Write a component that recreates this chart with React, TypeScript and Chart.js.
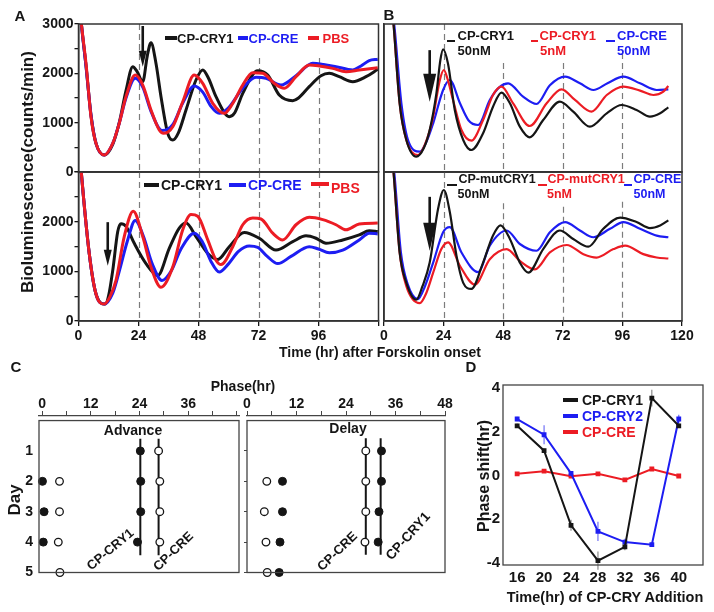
import React, { useEffect, useRef } from 'react';
import { Chart, registerables } from 'chart.js';

Chart.register(...registerables);

type Pt = [number, number];

const W = 714;
const H = 612;
const FONT = "'Liberation Sans', Arial, Helvetica, sans-serif";
const INK = '#151515';
const BLUE = '#1d1df2';
const RED = '#ec1c24';
const FRAME = '#333333';

// ---------------- Panel A / B : bioluminescence traces [time (hr), counts/min] ----------------
const BIO_X_TICKS = [0, 24, 48, 72, 96, 120];
const BIO_Y_TICKS = [0, 500, 1000, 1500, 2000, 2500, 3000];
const A_X_LABELS = [0, 24, 48, 72, 96];
const B_X_LABELS = [0, 24, 48, 72, 96, 120];
const Y_LABELS_TOP = [0, 1000, 2000, 3000];
const Y_LABELS_BOTTOM = [0, 1000, 2000];

const A_TOP_CRY1: Pt[] = [[0, 3700], [1, 3080], [3, 2150], [5, 1150], [7, 580], [10.3, 344], [13.7, 560], [16.3, 1000], [19, 1650], [21.7, 2135], [23.5, 2030], [25.7, 1831], [27.5, 2350], [29, 2622], [31, 2200], [33, 1527], [35.7, 783], [37.7, 648], [40, 800], [43, 1256], [47, 1865], [49.7, 2068], [52, 1900], [55, 1527], [60.3, 1121], [62.5, 1200], [65.7, 1594], [71.7, 2054], [75.7, 1966], [80.3, 1561], [85.7, 1446], [88, 1500], [92.3, 1730], [97, 1950], [100.3, 2000], [104.3, 1932], [109.7, 1831], [115, 1932], [119.7, 2081]];
const A_TOP_CRE: Pt[] = [[0, 3700], [1, 3080], [3, 2150], [5, 1150], [7, 580], [10.3, 344], [13.7, 580], [16.3, 990], [19, 1500], [22.7, 1900], [25.7, 1720], [29, 1230], [33.4, 840], [37.7, 960], [41.7, 1400], [46.3, 1743], [49.7, 1620], [53, 1330], [56.3, 1189], [60, 1300], [65.7, 1700], [71, 1919], [75, 1900], [81, 1763], [87, 1950], [93.7, 2203], [98, 2180], [103, 2135], [109.7, 2068], [113, 2150], [116.3, 2257], [119.7, 2284]];
const A_TOP_PBS: Pt[] = [[0, 3700], [1, 3080], [3, 2200], [5, 1120], [7, 580], [10.3, 344], [13.7, 580], [16.3, 986], [19, 1527], [22.7, 1966], [25.7, 1763], [29, 1256], [32.3, 851], [34, 783], [37.7, 918], [41.7, 1425], [46.3, 1966], [49.7, 1797], [53.7, 1392], [58.3, 1189], [61.7, 1392], [65.7, 1763], [69.7, 2013], [73.7, 2000], [78.3, 1797], [82.3, 1696], [87, 1932], [92.3, 2169], [96.3, 2149], [101.7, 2100], [107, 2034], [112.3, 2068], [119.7, 2115]];

const A_BOT_CRY1: Pt[] = [[0, 3700], [1, 3060], [4.3, 1360], [7, 544], [10.7, 340], [12, 500], [13.7, 1020], [15.7, 1802], [17, 1958], [19, 1904], [22.3, 1564], [27, 1156], [31.7, 918], [36.3, 1462], [40.3, 1870], [43, 1972], [47, 1700], [51.7, 1360], [55.7, 1238], [60.3, 1496], [66.3, 1782], [72.3, 1666], [79, 1428], [85.7, 1598], [91, 1714], [95, 1666], [99, 1564], [105.7, 1632], [112.3, 1734], [116.3, 1816], [119.7, 1802]];
const A_BOT_CRE: Pt[] = [[0, 3700], [1, 3060], [4.3, 1360], [7, 544], [10.3, 340], [13.7, 560], [16.3, 1000], [19.5, 1600], [22.7, 2026], [26, 1700], [29.5, 1150], [33.4, 816], [37, 1000], [41, 1450], [46.3, 1768], [49.5, 1600], [53, 1200], [56.3, 986], [60, 1150], [64, 1400], [68.3, 1510], [71.7, 1482], [75.5, 1300], [79.7, 1156], [85, 1300], [92.3, 1496], [96, 1450], [100.3, 1374], [105.7, 1428], [112.3, 1632], [116.3, 1768], [119.7, 1754]];
const A_BOT_PBS: Pt[] = [[0, 3700], [1, 3060], [4.3, 1360], [7, 544], [10.3, 340], [12.5, 480], [15, 816], [18.3, 1700], [21.9, 2210], [25.7, 1700], [29, 1088], [33, 680], [37.7, 1088], [41.7, 1836], [45, 2142], [47.7, 2108], [51.7, 1632], [55, 1224], [57, 1136], [61.7, 1496], [65.7, 1938], [69.7, 2074], [73, 2054], [77.7, 1768], [81.7, 1632], [87, 1938], [92.3, 2088], [97.7, 2040], [103, 1938], [107, 1836], [112.3, 1952], [119.7, 1972]];

const B_TOP_CRY1_50: Pt[] = [[3, 3500], [4, 2900], [6.3, 1392], [9, 649], [13, 311], [16, 480], [18.4, 851], [21.1, 1595], [22.7, 2270], [23.8, 2486], [25.8, 2189], [28.5, 1257], [31.9, 649], [35.2, 446], [39.9, 784], [43.9, 1324], [47.3, 1608], [50.7, 1392], [54.7, 919], [58.7, 703], [64.1, 1054], [70.8, 1426], [76.2, 1223], [82.9, 919], [89.7, 1189], [95.7, 1358], [101.7, 1257], [107.1, 1122], [111.2, 1189], [114.5, 1311]];
const B_TOP_CRY1_5: Pt[] = [[3, 3500], [4, 2900], [6.3, 1392], [9, 649], [13.7, 345], [16.5, 560], [19.8, 1122], [22.5, 1865], [24.1, 2068], [25.5, 1900], [27.8, 1460], [31.2, 851], [35.2, 635], [39.9, 1054], [43.9, 1561], [47.3, 1730], [52, 1392], [58.7, 932], [65.5, 1392], [71.5, 1676], [76.9, 1460], [83.6, 1223], [89.7, 1561], [96.4, 1730], [103.1, 1649], [108.5, 1561], [112.5, 1629], [114.5, 1743]];
const B_TOP_CRE_50: Pt[] = [[3, 3500], [4.3, 2900], [7, 1392], [10, 600], [14.4, 412], [17, 600], [19.8, 987], [23.8, 1662], [26.5, 1865], [30.6, 1392], [34, 1050], [37.9, 953], [42.6, 1460], [46.5, 1720], [50, 1797], [56, 1527], [61.4, 1378], [66.8, 1757], [72.9, 1932], [78.9, 1797], [84.3, 1662], [90, 1800], [96.4, 1932], [103.1, 1797], [109.8, 1662], [114.5, 1676]];

const B_BOT_MUT_50: Pt[] = [[3, 3500], [4, 2900], [6.3, 1380], [9, 768], [13, 428], [15.5, 700], [18.4, 1176], [21.8, 2264], [24.1, 2638], [26.5, 2196], [29.2, 1312], [31.9, 768], [35.2, 646], [39.9, 1176], [43.9, 1720], [46.9, 1924], [50.7, 1652], [54.7, 1176], [58.1, 972], [64.1, 1448], [70.8, 1822], [76.2, 1652], [82.3, 1496], [88.3, 1856], [95.1, 2081], [101.7, 1992], [107.1, 1870], [111.2, 1924], [114.5, 2026]];
const B_BOT_MUT_5: Pt[] = [[3, 3500], [4, 2900], [6.3, 1380], [9, 700], [14.4, 360], [17, 560], [19.8, 972], [23.1, 1448], [25.8, 1584], [30.6, 1108], [36.6, 734], [42.6, 1244], [49.4, 1448], [54.7, 1210], [60.8, 1040], [66.8, 1380], [73.6, 1530], [80.3, 1346], [85.6, 1278], [92.4, 1448], [97.1, 1516], [104.4, 1346], [109.8, 1278], [114.5, 1258]];
const B_BOT_CRE_50: Pt[] = [[3, 3500], [4.3, 2900], [6.8, 1380], [9.5, 750], [13.7, 442], [16.5, 700], [19.8, 1176], [23.8, 1788], [26.5, 1890], [31.2, 1380], [37.9, 986], [42.6, 1516], [49.4, 1822], [54.7, 1550], [61.4, 1414], [66.8, 1788], [72.9, 1992], [78.9, 1822], [84.3, 1686], [91, 1856], [96.4, 1992], [103.1, 1856], [109.8, 1720], [114.5, 1686]];

// dashed reference lines [time, top value]
const DASH_A_TOP: Pt[] = [[24, 3000], [48, 2310], [72, 2310], [96, 2310]];
const DASH_A_BOT: Pt[] = [[24, 3000], [48, 3000], [72, 3000], [96, 3000]];
const DASH_B_TOP: Pt[] = [[24, 3000], [48, 2210], [72, 2210], [96, 2410]];
const DASH_B_BOT: Pt[] = [[24, 3000], [48, 2370], [72, 2300], [96, 2400]];

// arrows: [time, from value, to value]
const ARROW_A_TOP = [25.7, 2960, 2135];
const ARROW_A_BOT = [11.7, 1990, 1110];
const ARROW_B_TOP = [18.4, 2470, 1425];
const ARROW_B_BOT = [18.4, 2500, 1415];

// ---------------- Panel C : phase (hr) by day ----------------
const C_X_TICKS = [0, 6, 12, 18, 24, 30, 36, 42, 48];
const ADV_X_LABELS = [0, 12, 24, 36];
const DEL_X_LABELS = [0, 12, 24, 36, 48];
const C_DAYS = [1, 2, 3, 4, 5];
const ADV_FILLED: Pt[] = [[0.1, 2], [0.5, 3], [0.3, 4], [24.2, 1], [24.3, 2], [24.3, 3], [23.5, 4]];
const ADV_OPEN: Pt[] = [[4.3, 2], [4.3, 3], [4.0, 4], [4.4, 5], [28.7, 1], [29.0, 2], [29.0, 3], [29.0, 4]];
const ADV_LINES: number[][] = [[24.2, 0.6, 4.43], [28.7, 0.6, 4.43]];
const DEL_FILLED: Pt[] = [[8.6, 2], [8.6, 3], [8.0, 4], [7.8, 5], [32.6, 1], [32.6, 2], [32.0, 3], [31.8, 4]];
const DEL_OPEN: Pt[] = [[4.8, 2], [4.2, 3], [4.6, 4], [4.9, 5], [28.8, 1], [28.8, 2], [28.8, 3], [28.6, 4]];
const DEL_LINES: number[][] = [[28.8, 0.58, 4.42], [32.4, 0.58, 4.42]];

// ---------------- Panel D : phase shift ----------------
const D_TIME = [16, 20, 24, 28, 32, 36, 40];
const D_Y_TICKS = [-4, -2, 0, 2, 4];
const D_CRY1 = [2.28, 1.14, -2.28, -3.9, -3.27, 3.55, 2.28];
const D_CRY2 = [2.59, 1.87, 0.1, -2.56, -3.05, -3.17, 2.59];
const D_CRE = [0.08, 0.2, -0.03, 0.08, -0.2, 0.3, -0.02];
const D_CRY1_ERR = [0.1, 0.1, 0.25, 0.42, 0.15, 0.38, 0.1];
const D_CRY2_ERR = [0.1, 0.43, 0.05, 0.44, 0.15, 0.05, 0.2];
const D_CRE_ERR = [0.05, 0.05, 0.05, 0.05, 0.05, 0.05, 0.05];

// ---------------- helpers ----------------
const tickFont = (size: number) => ({ family: FONT, size, weight: 'bold' as const });

function fixAxis(size: number, horizontal: boolean) {
  return (s: any) => {
    if (horizontal) s.height = size;
    else s.width = size;
    s.paddingLeft = 0;
    s.paddingRight = 0;
    s.paddingTop = 0;
    s.paddingBottom = 0;
  };
}
function setTicks(values: number[]) {
  return (s: any) => {
    s.ticks = values.map((v) => ({ value: v }));
  };
}
function pad(L: number, T: number, R: number, B: number, yW: number, xH: number, xTop = false) {
  return {
    left: L - yW,
    right: W - R,
    top: xTop ? T - xH : T,
    bottom: xTop ? H - B : H - B - xH,
  };
}
const pts = (d: Pt[]) => d.map(([x, y]) => ({ x, y }));

interface BioSpec {
  L: number; T: number; R: number; B: number;
  series: { data: Pt[]; color: string }[];
  lw: number;
  xLabels: number[] | null;
  yLabels: number[] | null;
  dashes: Pt[];
  arrow: number[];
  head: [number, number];
}

function makeBio(canvas: HTMLCanvasElement, s: BioSpec) {
  const yW = s.yLabels ? 60 : 0;
  const xH = s.xLabels ? 30 : 0;
  const deco = {
    id: 'bioDeco',
    beforeDatasetsDraw(chart: any) {
      const { ctx, chartArea: a, scales } = chart;
      const x = scales.x, y = scales.y;
      ctx.save();
      ctx.strokeStyle = '#7c7c7c';
      ctx.lineWidth = 1.2;
      ctx.setLineDash([6, 4]);
      s.dashes.forEach(([t, v]) => {
        const px = Math.round(x.getPixelForValue(t)) + 0.5;
        ctx.beginPath();
        ctx.moveTo(px, y.getPixelForValue(v));
        ctx.lineTo(px, a.bottom);
        ctx.stroke();
      });
      ctx.restore();
    },
    afterDatasetsDraw(chart: any) {
      const { ctx, chartArea: a, scales } = chart;
      const x = scales.x, y = scales.y;
      const [t, v0, v1] = s.arrow;
      const px = x.getPixelForValue(t);
      const y0 = y.getPixelForValue(v0);
      const y1 = y.getPixelForValue(v1);
      const [hw, hl] = s.head;
      ctx.save();
      ctx.strokeStyle = INK;
      ctx.fillStyle = INK;
      ctx.lineWidth = 2.6;
      ctx.beginPath();
      ctx.moveTo(px, y0);
      ctx.lineTo(px, y1 - hl + 2);
      ctx.stroke();
      ctx.beginPath();
      ctx.moveTo(px - hw / 2, y1 - hl);
      ctx.lineTo(px + hw / 2, y1 - hl);
      ctx.lineTo(px, y1);
      ctx.closePath();
      ctx.fill();
      ctx.strokeStyle = FRAME;
      ctx.lineWidth = 1.5;
      ctx.strokeRect(a.left, a.top, a.right - a.left, a.bottom - a.top);
      ctx.restore();
    },
  };
  return new Chart(canvas, {
    type: 'line',
    data: {
      datasets: s.series.map((d) => ({
        data: pts(d.data),
        borderColor: d.color,
        backgroundColor: d.color,
        borderWidth: s.lw,
        pointRadius: 0,
        cubicInterpolationMode: 'monotone' as const,
        fill: false,
      })),
    },
    options: {
      responsive: false,
      animation: false,
      events: [],
      layout: { padding: pad(s.L, s.T, s.R, s.B, yW, xH) },
      plugins: { legend: { display: false }, tooltip: { enabled: false } },
      scales: {
        x: {
          type: 'linear',
          min: 0,
          max: 120,
          afterBuildTicks: setTicks(BIO_X_TICKS),
          afterFit: fixAxis(xH, true),
          ticks: {
            display: !!s.xLabels,
            autoSkip: false,
            maxRotation: 0,
            padding: 2,
            color: INK,
            font: tickFont(14),
            callback: (v: any) => (s.xLabels && s.xLabels.includes(Number(v)) ? String(v) : ''),
          },
          grid: { drawOnChartArea: false, drawTicks: !!s.xLabels, tickLength: 5, color: INK, lineWidth: 1.3 },
          border: { display: true, color: FRAME, width: 1.5 },
        },
        y: {
          type: 'linear',
          min: 0,
          max: 3000,
          afterBuildTicks: setTicks(BIO_Y_TICKS),
          afterFit: fixAxis(yW, false),
          ticks: {
            display: !!s.yLabels,
            autoSkip: false,
            padding: 1,
            color: INK,
            font: tickFont(14),
            callback: (v: any) => (s.yLabels && s.yLabels.includes(Number(v)) ? String(v) : ''),
          },
          grid: { drawOnChartArea: false, drawTicks: !!s.yLabels, tickLength: 4, color: INK, lineWidth: 1.3 },
          border: { display: true, color: FRAME, width: 1.5 },
        },
      },
    },
    plugins: [deco],
  } as any);
}

interface PhaseSpec {
  L: number; T: number; R: number; B: number;
  xMin: number; xMax: number; xLabels: number[];
  filled: Pt[]; open: Pt[]; lines: number[][];
  yLabels: boolean;
}

function makePhase(canvas: HTMLCanvasElement, s: PhaseSpec) {
  const yW = s.yLabels ? 30 : 6;
  const xH = 30;
  const deco = {
    id: 'phaseDeco',
    afterDatasetsDraw(chart: any) {
      const { ctx, chartArea: a, scales } = chart;
      const top = scales.y.getPixelForValue(0);
      ctx.save();
      ctx.strokeStyle = '#444';
      ctx.lineWidth = 1.3;
      ctx.strokeRect(a.left, top, a.right - a.left, a.bottom - top);
      ctx.restore();
    },
  };
  const lineSets = s.lines.map(([p, d0, d1]) => ({
    data: [{ x: p, y: d0 }, { x: p, y: d1 }],
    borderColor: INK,
    borderWidth: 2,
    pointRadius: 0,
    showLine: true,
    clip: false,
  }));
  return new Chart(canvas, {
    type: 'line',
    data: {
      datasets: [
        {
          data: pts(s.filled),
          showLine: false,
          pointRadius: 4,
          pointBackgroundColor: INK,
          pointBorderColor: INK,
          pointBorderWidth: 1,
          clip: false,
        },
        {
          data: pts(s.open),
          showLine: false,
          pointRadius: 3.8,
          pointBackgroundColor: '#ffffff',
          pointBorderColor: INK,
          pointBorderWidth: 1.3,
          clip: false,
        },
        ...lineSets,
      ],
    },
    options: {
      responsive: false,
      animation: false,
      events: [],
      layout: { padding: pad(s.L, s.T, s.R, s.B, yW, xH, true) },
      plugins: { legend: { display: false }, tooltip: { enabled: false } },
      scales: {
        x: {
          type: 'linear',
          position: 'top',
          min: s.xMin,
          max: s.xMax,
          afterBuildTicks: setTicks(C_X_TICKS),
          afterFit: fixAxis(xH, true),
          ticks: {
            autoSkip: false,
            maxRotation: 0,
            padding: -2,
            color: INK,
            font: tickFont(14),
            callback: (v: any) => (s.xLabels.includes(Number(v)) ? String(v) : ''),
          },
          grid: { drawOnChartArea: false, drawTicks: true, tickLength: 5, color: '#444', lineWidth: 1 },
          border: { display: true, color: '#444', width: 1.3 },
        },
        y: {
          type: 'linear',
          min: -0.15,
          max: 5,
          reverse: true,
          afterBuildTicks: setTicks(C_DAYS),
          afterFit: fixAxis(yW, false),
          ticks: {
            autoSkip: false,
            padding: s.yLabels ? 6 : 0,
            color: INK,
            font: tickFont(14),
            callback: (v: any) => (s.yLabels ? String(v) : ''),
          },
          grid: { drawOnChartArea: false, drawTicks: !s.yLabels, tickLength: 3, color: '#444', lineWidth: 1 },
          border: { display: false },
        },
      },
    },
    plugins: [deco],
  } as any);
}

function makeShift(canvas: HTMLCanvasElement) {
  const L = 503, T = 385, R = 703, B = 565;
  const yW = 40, xH = 30;
  const series = [
    { v: D_CRY1, e: D_CRY1_ERR, c: INK, ec: '#8a8a8a' },
    { v: D_CRY2, e: D_CRY2_ERR, c: BLUE, ec: '#6f6ff5' },
    { v: D_CRE, e: D_CRE_ERR, c: RED, ec: '#f06a6a' },
  ];
  const deco = {
    id: 'shiftDeco',
    beforeDatasetsDraw(chart: any) {
      const { ctx, scales } = chart;
      ctx.save();
      ctx.lineWidth = 1.2;
      series.forEach((s) => {
        ctx.strokeStyle = s.ec;
        D_TIME.forEach((t, i) => {
          const px = scales.x.getPixelForValue(t);
          ctx.beginPath();
          ctx.moveTo(px, scales.y.getPixelForValue(s.v[i] + s.e[i]));
          ctx.lineTo(px, scales.y.getPixelForValue(s.v[i] - s.e[i]));
          ctx.stroke();
        });
      });
      ctx.restore();
    },
    afterDatasetsDraw(chart: any) {
      const { ctx, chartArea: a } = chart;
      ctx.save();
      ctx.strokeStyle = '#444';
      ctx.lineWidth = 1.3;
      ctx.strokeRect(a.left, a.top, a.right - a.left, a.bottom - a.top);
      ctx.restore();
    },
  };
  return new Chart(canvas, {
    type: 'line',
    data: {
      datasets: series.map((s) => ({
        data: D_TIME.map((t, i) => ({ x: t, y: s.v[i] })),
        borderColor: s.c,
        backgroundColor: s.c,
        borderWidth: 2,
        pointRadius: 2,
        pointStyle: 'rect',
        pointBackgroundColor: s.c,
        pointBorderColor: s.c,
        clip: false,
      })),
    },
    options: {
      responsive: false,
      animation: false,
      events: [],
      layout: { padding: pad(L, T, R, B, yW, xH) },
      plugins: { legend: { display: false }, tooltip: { enabled: false } },
      scales: {
        x: {
          type: 'linear',
          min: 13.9,
          max: 43.6,
          afterBuildTicks: setTicks(D_TIME),
          afterFit: fixAxis(xH, true),
          ticks: { autoSkip: false, maxRotation: 0, padding: 4, color: INK, font: tickFont(15) },
          grid: { drawOnChartArea: false, drawTicks: false },
          border: { display: false },
        },
        y: {
          type: 'linear',
          min: -4.1,
          max: 4.15,
          afterBuildTicks: setTicks(D_Y_TICKS),
          afterFit: fixAxis(yW, false),
          ticks: { autoSkip: false, padding: 3, color: INK, font: tickFont(15) },
          grid: { drawOnChartArea: false, drawTicks: false },
          border: { display: false },
        },
      },
    },
    plugins: [deco],
  } as any);
}

// ---------------- overlay text ----------------
function Txt(props: { x: number; y: number; size?: number; color?: string; rot?: number; left?: boolean; children: React.ReactNode }) {
  const { x, y, size = 14, color = INK, rot = 0, left = false } = props;
  return (
    <div
      style={{
        position: 'absolute',
        left: x,
        top: y,
        transform: `translate(${left ? '0' : '-50%'}, -50%) rotate(${rot}deg)`,
        fontFamily: FONT,
        fontWeight: 'bold',
        fontSize: size,
        color,
        whiteSpace: 'nowrap',
        lineHeight: 1,
      }}
    >
      {props.children}
    </div>
  );
}
function Seg(props: { x0: number; x1: number; y: number; color: string; t?: number }) {
  const t = props.t ?? 3.5;
  return (
    <div
      style={{
        position: 'absolute',
        left: props.x0,
        top: props.y - t / 2,
        width: props.x1 - props.x0,
        height: t,
        background: props.color,
      }}
    />
  );
}

export default function App() {
  const refs = useRef<(HTMLCanvasElement | null)[]>([]);
  useEffect(() => {
    const c = refs.current as HTMLCanvasElement[];
    const charts = [
      makeBio(c[0], {
        L: 78.5, T: 24, R: 378.5, B: 172, lw: 3,
        series: [{ data: A_TOP_PBS, color: RED }, { data: A_TOP_CRE, color: BLUE }, { data: A_TOP_CRY1, color: INK }],
        xLabels: null, yLabels: Y_LABELS_TOP, dashes: DASH_A_TOP, arrow: ARROW_A_TOP, head: [8, 16],
      }),
      makeBio(c[1], {
        L: 78.5, T: 172, R: 378.5, B: 321, lw: 3,
        series: [{ data: A_BOT_PBS, color: RED }, { data: A_BOT_CRE, color: BLUE }, { data: A_BOT_CRY1, color: INK }],
        xLabels: A_X_LABELS, yLabels: Y_LABELS_BOTTOM, dashes: DASH_A_BOT, arrow: ARROW_A_BOT, head: [8, 16],
      }),
      makeBio(c[2], {
        L: 384, T: 24, R: 682, B: 172, lw: 2.2,
        series: [{ data: B_TOP_CRY1_50, color: INK }, { data: B_TOP_CRY1_5, color: RED }, { data: B_TOP_CRE_50, color: BLUE }],
        xLabels: null, yLabels: null, dashes: DASH_B_TOP, arrow: ARROW_B_TOP, head: [13, 28],
      }),
      makeBio(c[3], {
        L: 384, T: 172, R: 682, B: 321, lw: 2.2,
        series: [{ data: B_BOT_MUT_50, color: INK }, { data: B_BOT_MUT_5, color: RED }, { data: B_BOT_CRE_50, color: BLUE }],
        xLabels: B_X_LABELS, yLabels: null, dashes: DASH_B_BOT, arrow: ARROW_B_BOT, head: [13, 28],
      }),
      makePhase(c[4], {
        L: 39, T: 416, R: 239, B: 572.5, xMin: -0.75, xMax: 48.5, xLabels: ADV_X_LABELS,
        filled: ADV_FILLED, open: ADV_OPEN, lines: ADV_LINES, yLabels: true,
      }),
      makePhase(c[5], {
        L: 247, T: 416, R: 445, B: 572.5, xMin: 0, xMax: 48, xLabels: DEL_X_LABELS,
        filled: DEL_FILLED, open: DEL_OPEN, lines: DEL_LINES, yLabels: false,
      }),
      makeShift(c[6]),
    ];
    return () => charts.forEach((ch) => ch.destroy());
  }, []);

  return (
    <div style={{ position: 'absolute', left: 0, top: 0, width: W, height: H, background: '#fff', overflow: 'hidden' }}>
      {Array.from({ length: 7 }).map((_, i) => (
        <canvas
          key={i}
          ref={(el) => {
            refs.current[i] = el;
          }}
          width={W}
          height={H}
          style={{ position: 'absolute', left: 0, top: 0, width: W, height: H }}
        />
      ))}

      {/* panel letters */}
      <Txt x={20} y={14.5} size={15}>A</Txt>
      <Txt x={389} y={14} size={15}>B</Txt>
      <Txt x={16} y={366} size={15}>C</Txt>
      <Txt x={471} y={366} size={15}>D</Txt>

      {/* A/B axis titles */}
      <Txt x={27} y={172} size={17} rot={-90}>Bioluminescence(counts/min)</Txt>
      <Txt x={380} y={352} size={14}>Time (hr) after Forskolin onset</Txt>

      {/* A top legend */}
      <Seg x0={165} x1={177} y={38} color={INK} />
      <Txt x={177} y={38} size={13} left>CP-CRY1</Txt>
      <Seg x0={238} x1={248} y={38} color={BLUE} />
      <Txt x={248.5} y={38} size={13} color={BLUE} left>CP-CRE</Txt>
      <Seg x0={307.5} x1={319} y={38} color={RED} />
      <Txt x={322.5} y={38} size={13} color={RED} left>PBS</Txt>

      {/* A bottom legend */}
      <Seg x0={144} x1={159} y={185} color={INK} t={4} />
      <Txt x={161} y={185} size={14} left>CP-CRY1</Txt>
      <Seg x0={229} x1={246} y={185} color={BLUE} t={4} />
      <Txt x={248} y={185} size={14} color={BLUE} left>CP-CRE</Txt>
      <Seg x0={311} x1={329} y={184} color={RED} t={4} />
      <Txt x={331} y={188} size={14} color={RED} left>PBS</Txt>

      {/* B top legend */}
      <Seg x0={447} x1={455} y={41} color={INK} t={2} />
      <Txt x={457.5} y={35} size={13} left>CP-CRY1</Txt>
      <Txt x={457.5} y={49.5} size={13} left>50nM</Txt>
      <Seg x0={531} x1={538} y={41} color={RED} t={2} />
      <Txt x={539.5} y={35} size={13} color={RED} left>CP-CRY1</Txt>
      <Txt x={540} y={49.5} size={13} color={RED} left>5nM</Txt>
      <Seg x0={606} x1={615} y={41} color={BLUE} t={2} />
      <Txt x={617} y={35} size={13} color={BLUE} left>CP-CRE</Txt>
      <Txt x={617} y={49.5} size={13} color={BLUE} left>50nM</Txt>

      {/* B bottom legend */}
      <Seg x0={447} x1={457} y={185} color={INK} t={2} />
      <Txt x={458.5} y={178.5} size={12.5} left>CP-mutCRY1</Txt>
      <Txt x={457.5} y={193.5} size={12.5} left>50nM</Txt>
      <Seg x0={538} x1={546.5} y={185} color={RED} t={2} />
      <Txt x={547.5} y={178.5} size={12.5} color={RED} left>CP-mutCRY1</Txt>
      <Txt x={547} y={193.5} size={12.5} color={RED} left>5nM</Txt>
      <Seg x0={623.5} x1={631.5} y={185} color={BLUE} t={2} />
      <Txt x={633.5} y={178.5} size={12.5} color={BLUE} left>CP-CRE</Txt>
      <Txt x={633.5} y={193.5} size={12.5} color={BLUE} left>50nM</Txt>

      {/* C annotations */}
      <Txt x={243} y={386} size={14}>Phase(hr)</Txt>
      <Txt x={14} y={500} size={17} rot={-90}>Day</Txt>
      <Txt x={133} y={430} size={14}>Advance</Txt>
      <Txt x={348} y={428} size={14}>Delay</Txt>
      <Txt x={110} y={549} size={13} rot={-40}>CP-CRY1</Txt>
      <Txt x={173} y={551} size={13} rot={-44}>CP-CRE</Txt>
      <Txt x={337} y={551} size={13} rot={-44}>CP-CRE</Txt>
      <Txt x={408} y={536} size={13.5} rot={-48}>CP-CRY1</Txt>

      {/* D titles & legend */}
      <Txt x={484} y={476} size={16} rot={-90}>Phase shift(hr)</Txt>
      <Txt x={605} y={597} size={14.5}>Time(hr) of CP-CRY Addition</Txt>
      <Seg x0={563} x1={578} y={400} color={INK} t={4} />
      <Txt x={582} y={400} size={14} left>CP-CRY1</Txt>
      <Seg x0={563} x1={578} y={416} color={BLUE} t={4} />
      <Txt x={582} y={416} size={14} color={BLUE} left>CP-CRY2</Txt>
      <Seg x0={563} x1={578} y={432} color={RED} t={4} />
      <Txt x={582} y={432} size={14} color={RED} left>CP-CRE</Txt>
    </div>
  );
}
